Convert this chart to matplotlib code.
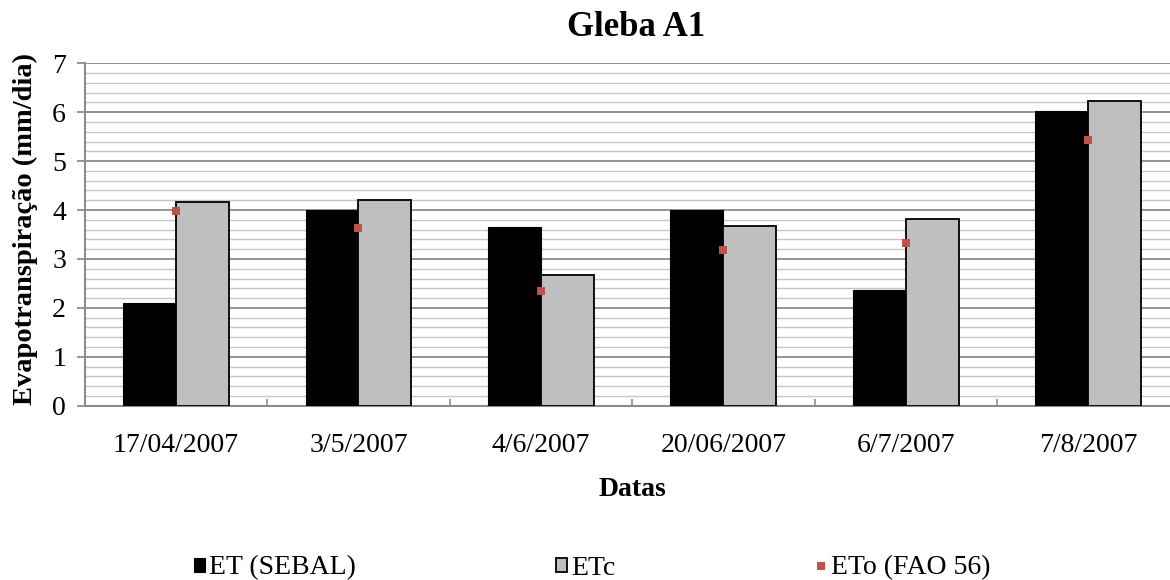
import matplotlib
matplotlib.use("Agg")
import matplotlib.pyplot as plt
from matplotlib.lines import Line2D
from matplotlib.patches import Patch
import numpy as np

plt.rcParams['font.family'] = ['Liberation Serif', 'DejaVu Serif']

datas = ["17/04/2007", "3/5/2007", "4/6/2007", "20/06/2007", "6/7/2007", "7/8/2007"]
et_sebal = [2.10, 4.00, 3.65, 4.00, 2.36, 6.02]
etc = [4.17, 4.20, 2.68, 3.67, 3.81, 6.23]
eto_fao56 = [3.98, 3.64, 2.34, 3.19, 3.32, 5.43]

W, H = 1170, 580
fig = plt.figure(figsize=(W / 100, H / 100), dpi=100)
ax = fig.add_axes([84.8 / W, (H - 405.7) / H, 1094.7 / W, 342.4 / H])

x = np.arange(len(datas))
bw = 0.29
grid_major = '#8c8c8c'
grid_minor = '#c6c6c6'

ax.bar(x - bw / 2, et_sebal, width=bw, color='black', edgecolor='black',
       linewidth=0.8, zorder=3)
ax.bar(x + bw / 2, etc, width=bw, color='#bfbfbf', edgecolor='black',
       linewidth=1.3, zorder=3)
ax.plot(x, eto_fao56, linestyle='none', marker='s', markersize=6.3,
        color='#c0504d', markeredgewidth=0, zorder=4)

ax.set_xlim(-0.5, len(datas) - 0.5)
ax.set_ylim(0, 7)
ax.set_yticks(np.arange(0, 8, 1))
ax.set_yticks(np.arange(0, 7.01, 0.2), minor=True)
ax.grid(axis='y', which='major', color=grid_major, linewidth=1.3, zorder=0)
ax.grid(axis='y', which='minor', color=grid_minor, linewidth=1.0, zorder=0)
ax.set_axisbelow(True)

ax.set_xticks(x)
ax.set_xticklabels(datas)
ax.set_xticks(np.arange(-0.5, len(datas), 1.0), minor=True)
ax.tick_params(axis='x', which='major', length=0, pad=20, labelsize=20)
ax.tick_params(axis='x', which='minor', direction='in', length=5,
               color=grid_major, width=1.2)
ax.tick_params(axis='y', which='major', direction='out', length=5.5,
               color=grid_major, width=1.3, pad=8, labelsize=20)
ax.tick_params(axis='y', which='minor', length=0)

for s in ('top', 'right'):
    ax.spines[s].set_visible(False)
for s in ('left', 'bottom'):
    ax.spines[s].set_color(grid_major)
    ax.spines[s].set_linewidth(1.5)

fig.text(636 / W, 1 - 28 / H, "Gleba A1", ha='center', va='center',
         fontsize=25, fontweight='bold')
fig.text(632 / W, 1 - 490 / H, "Datas", ha='center', va='center',
         fontsize=20, fontweight='bold')
fig.text(25 / W, 1 - 229 / H, "Evapotranspiração (mm/dia)", ha='center',
         va='center', rotation=90, fontsize=20.5, fontweight='bold')

handles = [
    Patch(facecolor='black', edgecolor='black', linewidth=0.8),
    Patch(facecolor='#bfbfbf', edgecolor='black', linewidth=1.3),
    Line2D([], [], linestyle='none', marker='s', markersize=6,
           color='#c0504d', markeredgewidth=0),
]
fig.legend(handles, ["ET (SEBAL)", "ETc", "ETo (FAO 56)"], ncol=3,
           loc='center', bbox_to_anchor=(592 / W, 1 - 568 / H),
           frameon=False, fontsize=20, handlelength=0.4, handleheight=0.4,
           handletextpad=0.15, columnspacing=7.2)

fig.savefig("out.png", dpi=100)
